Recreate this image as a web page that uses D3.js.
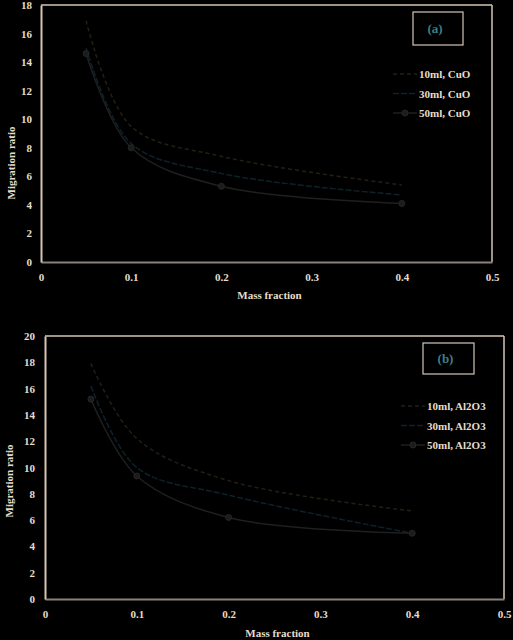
<!DOCTYPE html>
<html><head><meta charset="utf-8">
<script src="https://cdn.jsdelivr.net/npm/d3@7"></script>
<style>
html,body{margin:0;padding:0;background:#000;}
svg{display:block;}
text{font-family:"Liberation Serif","Times New Roman",serif;font-weight:bold;}
</style></head>
<body>
<svg id="chart" width="513" height="640"></svg>
<script>
// ---- data ----
const massFraction = [0.05, 0.1, 0.2, 0.4];

const seriesNamesA = ["10ml, CuO", "30ml, CuO", "50ml, CuO"];
const cuo10 = [16.9, 9.5, 7.4, 5.4];
const cuo30 = [15.0, 8.3, 6.2, 4.7];
const cuo50 = [14.6, 8.0, 5.3, 4.1];

const seriesNamesB = ["10ml, Al2O3", "30ml, Al2O3", "50ml, Al2O3"];
const al10 = [17.9, 12.2, 9.0, 6.7];
const al30 = [16.2, 10.0, 7.9, 5.0];
const al50 = [15.2, 9.35, 6.2, 5.0];

const xTicks = [0, 0.1, 0.2, 0.3, 0.4, 0.5];
const yTicksA = [0, 2, 4, 6, 8, 10, 12, 14, 16, 18];
const yTicksB = [0, 2, 4, 6, 8, 10, 12, 14, 16, 18, 20];

const panelLabels = ["(a)", "(b)"];
const xTitle = "Mass fraction";
const yTitle = "Migration ratio";

// ---- styles ----
const seriesStyles = [
  {color: "#221f13", dash: "4,3", marker: false},
  {color: "#0c2228", dash: "6,2", marker: false},
  {color: "#1f1f1f", dash: null, marker: true}
];
const textColor = "#e6dccb";
const frameColor = "#d6c6b4";
const axisColor = "#8c807a";

const svg = d3.select("#chart");

function panel(cfg) {
  const g = svg.append("g");
  const x = d3.scaleLinear().domain([0, 0.5]).range([cfg.left, cfg.right]);
  const y = d3.scaleLinear().domain([0, cfg.ymax]).range([cfg.bottom, cfg.top]);

  // frame
  g.append("line").attr("x1", cfg.left).attr("x2", cfg.right).attr("y1", cfg.top).attr("y2", cfg.top)
    .attr("stroke", frameColor).attr("stroke-width", 1.5);
  g.append("line").attr("x1", cfg.right).attr("x2", cfg.right).attr("y1", cfg.top).attr("y2", cfg.bottom)
    .attr("stroke", frameColor).attr("stroke-width", 1.5);

  // axes
  const xAxis = d3.axisBottom(x).tickValues(xTicks).tickSize(0).tickPadding(11)
    .tickFormat(d => d === 0 ? "0" : d3.format(".1f")(d));
  const gx = g.append("g").attr("transform", `translate(0,${cfg.bottom})`).call(xAxis);
  gx.select(".domain").attr("stroke", axisColor).attr("stroke-width", 2);
  gx.selectAll("text").attr("fill", textColor).attr("font-size", 11)
    .attr("font-family", '"Liberation Serif",serif').attr("font-weight", "bold");

  const yAxis = d3.axisLeft(y).tickValues(cfg.yTicks).tickSize(0).tickPadding(cfg.yPad);
  const gy = g.append("g").attr("transform", `translate(${cfg.left},0)`).call(yAxis);
  gy.select(".domain").attr("stroke", frameColor).attr("stroke-width", 2);
  gy.selectAll("text").attr("fill", textColor).attr("font-size", 11)
    .attr("font-family", '"Liberation Serif",serif').attr("font-weight", "bold");

  // titles
  g.append("text").attr("x", (cfg.left + cfg.right) / 2 + 3).attr("y", cfg.xTitleY)
    .attr("text-anchor", "middle").attr("fill", textColor).attr("font-size", 11).text(xTitle);
  g.append("text").attr("transform", `translate(${cfg.yTitleX},${cfg.yTitleCY}) rotate(-90)`)
    .attr("text-anchor", "middle").attr("fill", textColor).attr("font-size", 11).text(yTitle);

  // series
  const line = d3.line().x(d => x(d[0])).y(d => y(d[1])).curve(d3.curveCatmullRom.alpha(0.5));
  cfg.series.forEach((vals, i) => {
    const st = seriesStyles[i];
    const pts = massFraction.map((m, k) => [m, vals[k]]);
    g.append("path").attr("d", line(pts)).attr("fill", "none").attr("stroke", st.color)
      .attr("stroke-width", 1.5).attr("stroke-dasharray", st.dash);
    if (st.marker) {
      g.selectAll(null).data(pts).enter().append("circle")
        .attr("cx", d => x(d[0])).attr("cy", d => y(d[1])).attr("r", 3)
        .attr("fill", "#1c1c1c").attr("stroke", "#262626");
    }
  });

  // panel label box
  g.append("rect").attr("x", cfg.box[0]).attr("y", cfg.box[1]).attr("width", cfg.box[2]).attr("height", cfg.box[3])
    .attr("fill", "none").attr("stroke", frameColor).attr("stroke-width", 1.2);
  g.append("text").attr("x", cfg.box[0] + cfg.box[2] / 2 - 3).attr("y", cfg.box[1] + cfg.box[3] / 2 + 4)
    .attr("text-anchor", "middle").attr("fill", "#3f7f86").attr("font-size", 13)
    .attr("font-family", '"DejaVu Sans",sans-serif').attr("font-weight", "normal").text(cfg.label);

  // legend
  cfg.names.forEach((nm, i) => {
    const st = seriesStyles[i];
    const ly = cfg.legY + i * cfg.legStep;
    g.append("line").attr("x1", cfg.legX - 26).attr("x2", cfg.legX - 2).attr("y1", ly).attr("y2", ly)
      .attr("stroke", st.color).attr("stroke-width", 1.5).attr("stroke-dasharray", st.dash);
    if (st.marker) {
      g.append("circle").attr("cx", cfg.legX - 14).attr("cy", ly).attr("r", 3)
        .attr("fill", "#1c1c1c").attr("stroke", "#262626");
    }
    g.append("text").attr("x", cfg.legX).attr("y", ly + 4).attr("fill", textColor)
      .attr("font-size", 11).text(nm);
  });
}

panel({left: 41, right: 492, top: 5, bottom: 262, ymax: 18, yTicks: yTicksA, yPad: 9,
  xTitleY: 299, yTitleX: 15, yTitleCY: 163,
  series: [cuo10, cuo30, cuo50], names: seriesNamesA, label: panelLabels[0],
  box: [413, 12, 50, 33], legX: 419, legY: 74, legStep: 19.5});

panel({left: 45, right: 504, top: 336, bottom: 599, ymax: 20, yTicks: yTicksB, yPad: 10,
  xTitleY: 637, yTitleX: 13, yTitleCY: 481,
  series: [al10, al30, al50], names: seriesNamesB, label: panelLabels[1],
  box: [423, 343, 51, 31], legX: 427, legY: 406, legStep: 19.5});
</script>
</body></html>
